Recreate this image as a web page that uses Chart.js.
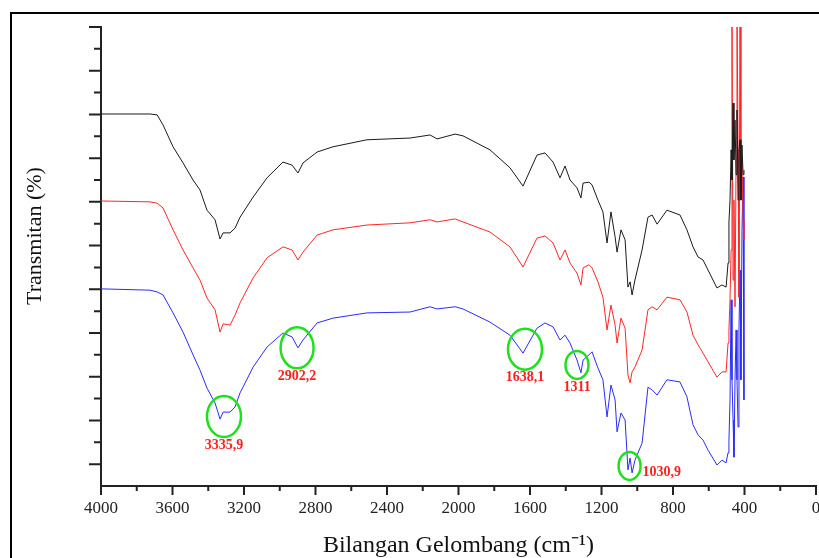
<!DOCTYPE html>
<html>
<head>
<meta charset="utf-8">
<script src="https://cdn.jsdelivr.net/npm/chart.js@4.4.1/dist/chart.umd.min.js"></script>
<style>
  html, body { margin: 0; padding: 0; background: #fff; }
</style>
</head>
<body>
<canvas id="ftir" width="819" height="558"></canvas>
<script>
// wavenumber (cm-1), shared by the three spectra
let wavenumber = [
  4000, 3726, 3686, 3653, 3597, 3541, 3485, 3446, 3407, 3362,
  3334, 3317, 3278, 3250, 3222, 3149, 3071, 2982, 2931, 2898,
  2870, 2791, 2702, 2512, 2271, 2159, 2120, 2019, 1975, 1824,
  1712, 1639, 1561, 1516, 1471, 1432, 1404, 1376, 1337, 1315,
  1303, 1270, 1253, 1220, 1192, 1169, 1147, 1124, 1113, 1091,
  1068, 1052, 1040, 1029, 1013, 973, 940, 917, 889, 834,
  761, 722, 688, 660, 632, 604, 554, 526, 503, 492,
  487, 481, 475, 470, 464, 459, 453, 447, 442, 436,
  431, 425, 420, 414, 408, 403
];

// transmittance, offset spectra (arbitrary units)
let tBlack = [
  85.1, 85.1, 84.9, 82.6, 77.6, 73.9, 70.0, 67.7, 63.1, 60.9,
  56.5, 57.9, 57.9, 59.0, 61.5, 66.1, 70.5, 74.1, 73.4, 71.6,
  73.9, 76.4, 77.6, 79.2, 79.6, 80.3, 79.4, 80.5, 80.1, 76.9,
  72.8, 68.6, 75.7, 76.2, 74.1, 70.5, 73.2, 70.0, 68.2, 65.9,
  69.3, 69.5, 68.9, 65.4, 62.7, 55.6, 62.7, 57.0, 53.5, 58.6,
  56.3, 45.5, 46.7, 43.7, 47.1, 54.0, 61.5, 62.0, 59.9, 63.1,
  62.0, 58.6, 54.7, 52.4, 51.7, 49.4, 45.3, 46.0, 45.5, 51.0,
  60.4, 65.4, 76.9, 70.0, 87.6, 74.6, 83.7, 71.2, 86.0, 65.4,
  76.9, 79.2, 65.4, 78.0, 71.2, 72.3
];
let tRed = [
  65.2, 65.0, 64.7, 63.6, 58.6, 54.0, 49.9, 47.1, 43.0, 40.3,
  35.2, 37.1, 36.8, 39.1, 41.9, 47.6, 52.2, 54.7, 54.0, 51.7,
  53.5, 57.4, 58.6, 59.7, 60.2, 60.9, 60.4, 61.1, 60.4, 58.1,
  54.7, 50.1, 56.7, 57.2, 55.6, 51.7, 54.0, 51.0, 48.7, 46.0,
  49.9, 50.6, 49.9, 46.7, 43.2, 35.7, 41.4, 36.8, 32.7, 38.4,
  36.1, 25.4, 23.6, 26.1, 27.2, 31.1, 40.3, 41.0, 40.3, 43.2,
  42.6, 39.8, 34.5, 32.3, 30.4, 28.4, 24.9, 26.1, 26.1, 32.7,
  35.7, 42.6, 54.0, 110, 47.1, 65.4, 41.0, 74.6, 110, 76.9,
  43.2, 110, 65.4, 74.6, 60.9, 56.3
];
let tBlue = [
  45.1, 44.8, 44.4, 43.7, 39.6, 35.2, 30.0, 26.5, 22.4, 19.0,
  15.3, 16.9, 16.9, 18.1, 21.3, 27.2, 31.8, 35.0, 34.1, 31.6,
  33.4, 37.3, 38.4, 39.6, 39.8, 41.0, 40.5, 41.0, 40.5, 37.5,
  34.5, 30.4, 36.1, 37.3, 36.4, 33.4, 34.5, 32.7, 28.8, 25.9,
  28.8, 30.0, 30.7, 27.0, 24.3, 15.8, 23.1, 19.7, 12.4, 16.7,
  15.1, 3.7, 6.4, 3.0, 5.9, 9.8, 22.6, 22.0, 20.8, 24.3,
  23.8, 20.4, 14.0, 11.7, 10.5, 8.2, 4.8, 5.9, 5.3, 7.6,
  10.5, 19.7, 42.6, 24.3, 15.1, 6.6, 24.3, 35.7, 24.3, 13.5,
  35.7, 49.4, 24.3, 58.6, 70.7, 19.7
];

// peaks marked on the blue spectrum
let peakLabels = ["3335,9", "2902,2", "1638,1", "1311", "1030,9"];
let peakWn = [3312, 2903, 1628, 1337, 1043];
let peakT = [15.9, 31.6, 31.3, 27.7, 4.6];

function pts(ys) {
  return wavenumber.map((w, i) => ({ x: w, y: ys[i] }));
}

const serif = "'Liberation Serif', 'Times New Roman', serif";

// frame, tick marks, y title and peak circles
const extras = {
  id: 'extras',
  afterDraw(chart, args, opts) {
    const ctx = chart.ctx;
    const xs = chart.scales.x, ys = chart.scales.y;
    ctx.save();

    ctx.strokeStyle = '#000';
    ctx.lineWidth = 2;
    ctx.strokeRect(11, 13, 840, 600);

    ctx.strokeStyle = '#222';
    ctx.lineWidth = 2;
    ctx.beginPath();
    xs.ticks.forEach(t => {
      let px = xs.getPixelForValue(t.value);
      let len = t.value % 400 === 0 ? 9 : 5;
      ctx.moveTo(px, xs.top);
      ctx.lineTo(px, xs.top + len);
    });
    ys.ticks.forEach(t => {
      if (t.value === 0) return;
      let py = ys.getPixelForValue(t.value);
      let len = t.value % 10 === 5 ? 12 : 7;
      ctx.moveTo(ys.right, py);
      ctx.lineTo(ys.right - len, py);
    });
    ctx.stroke();

    ctx.fillStyle = '#111';
    ctx.font = '22px ' + serif;
    ctx.textAlign = 'center';
    ctx.textBaseline = 'middle';
    ctx.translate(35, 236);
    ctx.rotate(-Math.PI / 2);
    ctx.fillText('Transmitan (%)', 0, 0);
    ctx.setTransform(1, 0, 0, 1, 0, 0);

    peakLabels.forEach((lab, i) => {
      let cx = xs.getPixelForValue(peakWn[i]);
      let cy = ys.getPixelForValue(peakT[i]);
      let r = opts.radii[i];
      ctx.strokeStyle = '#1fe01f';
      ctx.lineWidth = 2.5;
      ctx.beginPath();
      ctx.ellipse(cx, cy, r[0], r[1], 0, 0, Math.PI * 2);
      ctx.stroke();
      ctx.fillStyle = '#ff1e1e';
      ctx.font = 'bold 14px ' + serif;
      if (opts.side[i] === 'right') {
        ctx.textAlign = 'left';
        ctx.fillText(lab, cx + r[0] + 2, cy + 6);
      } else {
        ctx.textAlign = 'center';
        ctx.fillText(lab, cx, cy + r[1] + 8);
      }
    });
    ctx.restore();
  }
};

new Chart(document.getElementById('ftir'), {
  type: 'line',
  data: {
    datasets: [
      { label: 'black', data: pts(tBlack), borderColor: '#1a1a1a' },
      { label: 'red', data: pts(tRed), borderColor: '#ff2626' },
      { label: 'blue', data: pts(tBlue), borderColor: '#2a2aff' }
    ]
  },
  options: {
    responsive: false,
    animation: false,
    layout: { padding: { left: 0, right: 3, top: 27, bottom: 0 } },
    elements: {
      line: { borderWidth: 1, tension: 0 },
      point: { radius: 0 }
    },
    plugins: {
      legend: { display: false },
      tooltip: { enabled: false },
      extras: {
        radii: [[17, 20.5], [16.5, 20.5], [17, 20.5], [11.5, 14], [11, 14]],
        side: ['below', 'below', 'below', 'below', 'right']
      }
    },
    scales: {
      x: {
        type: 'linear',
        reverse: true,
        min: 0,
        max: 4000,
        grid: { display: false, drawTicks: false },
        border: { display: true, color: '#222', width: 2 },
        ticks: {
          stepSize: 200,
          autoSkip: false,
          maxRotation: 0,
          padding: 12,
          color: '#222',
          font: { family: serif, size: 17 },
          callback: v => (v % 400 === 0 ? String(v) : '')
        },
        title: {
          display: true,
          text: 'Bilangan Gelombang (cm⁻¹)',
          color: '#111',
          font: { family: serif, size: 24, lineHeight: 1 },
          padding: 0
        },
        afterFit: s => {
          s.height = 72;
          s.paddingLeft = 0;
          s.paddingRight = 0;
        }
      },
      y: {
        min: 0,
        max: 105,
        grid: { display: false, drawTicks: false },
        border: { display: true, color: '#222', width: 2 },
        ticks: { stepSize: 5, display: false },
        afterFit: s => { s.width = 101; }
      }
    }
  },
  plugins: [extras]
});
</script>
</body>
</html>
